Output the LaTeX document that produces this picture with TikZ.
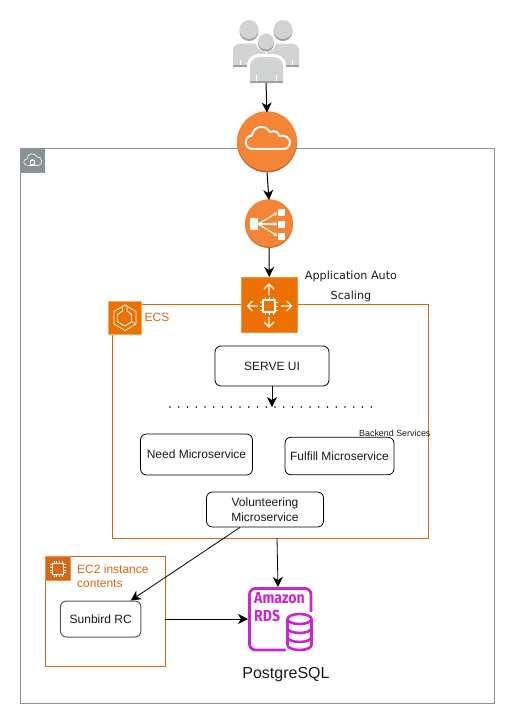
\documentclass[tikz,border=0pt]{standalone}
\usepackage{fontspec}
\setmainfont{Liberation Sans}
\newfontfamily\dejavu{DejaVu Sans}
\newfontfamily\fira[FakeStretch=0.88]{Fira Sans}
\usetikzlibrary{arrows.meta}
\definecolor{txt}{HTML}{1A1A1A}
\definecolor{awsorange}{HTML}{ED7100}
\definecolor{ecsline}{HTML}{D86613}
\definecolor{grayline}{HTML}{879196}
\definecolor{cloudor}{HTML}{F58536}
\definecolor{clouddk}{HTML}{C9642C}
\definecolor{rds}{HTML}{C925D1}
\definecolor{ppl}{HTML}{D2D3D3}
\definecolor{ppldk}{HTML}{9D9FA0}
\tikzset{
  x=1pt,y=-1pt,
  flow/.style={draw=black,line width=1pt,-{Stealth[length=10pt,width=10pt,inset=3pt]}},
  thinflow/.style={draw=black,line width=.8pt,-{Stealth[length=10pt,width=10pt,inset=3pt]}},
  svc/.style={draw=black,line width=.8pt,rounded corners=6pt,align=center,font=\fontsize{12}{15}\selectfont,text=txt,inner sep=0pt},
  slot/.style={inner sep=0pt,outer sep=0pt,minimum width=#1,minimum height=#1},
  ink/.style={draw=white,line width=.8pt,fill=none,line join=round},
}
\begin{document}
\begin{tikzpicture}
\useasboundingbox (0,0) rectangle (516,724);
\fill[white] (0,0) rectangle (516,724);

% groups
\node[draw=grayline,line width=.8pt,inner sep=0pt,outer sep=0pt,minimum width=474.5pt,minimum height=555pt,anchor=north west] (vpc) at (20.3,148) {};
\node[draw=ecsline,line width=.8pt,inner sep=0pt,outer sep=0pt,minimum width=316pt,minimum height=234pt,anchor=north west] (ecs) at (112,304) {};
\node[draw=ecsline,line width=.8pt,inner sep=0pt,outer sep=0pt,minimum width=119.5pt,minimum height=110pt,anchor=north west] (ec2) at (45.5,556) {};

% VPC icon
\node[fill=grayline,slot=24.5pt,anchor=north west] (vpcicon) at (20.5,148) {};
\draw[ink,line width=.6pt] (28,165.5) .. controls (22.5,165.5) and (22.5,159) .. (27,159) .. controls (27,153) and (35,152) .. (37,157) .. controls (42,155.5) and (44,165.5) .. (38,165.5) -- cycle;
\draw[ink,line width=.6pt] (30.3,160.5) rectangle (34.7,164);
\draw[ink,line width=.6pt] (31,160.5) arc[start angle=180,end angle=0,radius=1.5pt];

% people
\node[slot=66pt,anchor=north west,minimum height=63pt] (people) at (233,20) {};
\foreach \cx in {249,283}{
  \fill[ppl] (\cx-16,67) -- (\cx-16,50) .. controls (\cx-16,45) and (\cx-12,43.5) .. (\cx-7,43.5) -- (\cx+7,43.5) .. controls (\cx+12,43.5) and (\cx+16,45) .. (\cx+16,50) -- (\cx+16,67) -- cycle;
  \fill[ppldk] (\cx-16,65) rectangle (\cx+16,67);
  \fill[ppldk] (\cx,31.5) circle[radius=9.5pt];
  \fill[ppl] (\cx,29.5) circle[radius=9.5pt];
}
\fill[white] (247,83) -- (247,66) .. controls (247,57) and (254,54) .. (260,54) -- (272,54) .. controls (279,54) and (286,57) .. (286,66) -- (286,83) -- cycle;
\fill[white] (266,42) circle[radius=10pt];
\fill[ppl] (250,83) -- (250,66) .. controls (250,60) and (255,57) .. (260,57) -- (272,57) .. controls (278,57) and (283,60) .. (283,66) -- (283,83) -- cycle;
\fill[ppldk] (250,81) rectangle (283,83);
\fill[white] (256,75) rectangle (257,81);
\fill[white] (276,75) rectangle (277,81);
\fill[white] (239.5,60) rectangle (240.5,65);
\fill[white] (292,60) rectangle (293,65);
\fill[ppldk] (266,43.5) circle[radius=8pt];
\fill[ppl] (266,41.5) circle[radius=8pt];

% internet gateway cloud
\node[circle,fill=clouddk,slot=60pt,anchor=center] (cloud) at (267,142.5) {};
\fill[cloudor] (267,141) circle[radius=29.8pt];
\draw[ink,line width=1.9pt] (253,149) .. controls (243.5,149) and (243.5,136) .. (252,135.5) .. controls (253,127) and (264,123) .. (270,132) .. controls (274,130) and (279,132) .. (279,136) .. controls (284,134) and (292,138) .. (289.5,145) .. controls (288.5,148) and (286,149) .. (283,149) -- cycle;

% load balancer
\node[circle,fill=clouddk,slot=48pt,anchor=center] (lb) at (269,224) {};
\fill[cloudor] (269,223) circle[radius=23.8pt];
\fill[white] (249.5,218) rectangle (258,230);
\fill[white] (277.5,208.5) rectangle (284.5,215.5);
\fill[white] (277.5,220.5) rectangle (284.5,227.5);
\fill[white] (277.5,233) rectangle (284.5,240);
\draw[white,line width=1.1pt,-{Stealth[length=4pt,width=4pt]}] (258,224) -- (277.5,212.5);
\draw[white,line width=1.1pt,-{Stealth[length=4pt,width=4pt]}] (258,224) -- (277.5,224);
\draw[white,line width=1.1pt,-{Stealth[length=4pt,width=4pt]}] (258,224) -- (277.5,236);

% auto scaling (drawn over the ECS border)
\node[fill=awsorange,draw=awsorange!75!white,line width=.5pt,slot=55.5pt,anchor=north west] (asg) at (241.5,277) {};
\draw[ink,line width=1.5pt] (263,300) rectangle (275,312);
\foreach \t in {0,1,2}{
  \draw[white,line width=.9pt] (265+\t*4,297) -- (265+\t*4,300);
  \draw[white,line width=.9pt] (265+\t*4,312) -- (265+\t*4,315);
  \draw[white,line width=.9pt] (260,302+\t*4) -- (263,302+\t*4);
  \draw[white,line width=.9pt] (275,302+\t*4) -- (278,302+\t*4);
}
\draw[ink,line width=1.4pt] (269,295) -- (269,284) (264,289) -- (269,284) -- (274,289);
\draw[ink,line width=1.4pt] (269,317) -- (269,327) (264,322) -- (269,327) -- (274,322);
\draw[ink,line width=1.4pt] (258,306) -- (247.5,306) (252.5,301) -- (247.5,306) -- (252.5,311);
\draw[ink,line width=1.4pt] (281,306) -- (291.5,306) (286.5,301) -- (291.5,306) -- (286.5,311);
\node[font=\dejavu\fontsize{11.2}{20}\selectfont,text=txt,align=center,inner sep=0pt] (asgtext) at (351,286) {Application Auto\\Scaling};

% ECS icon
\node[fill=awsorange,draw=awsorange!60!white,line width=.6pt,slot=33pt,anchor=north west] (ecsicon) at (108.3,301.3) {};
\draw[ink,line width=.8pt] (125,305) -- (136,311.5) -- (136,324) -- (125,330.5) -- (114,324) -- (114,311.5) -- cycle;
\draw[ink,line width=.8pt] (122.5,305.5) -- (122.5,311) -- (117.5,314.5) -- (117.5,322) -- (125,326) -- (131.5,322) -- (131.5,314.5) -- (127,311) -- (127,305.5);
\draw[ink,line width=.8pt] (131.5,321.5) -- (136,324);
\node[font=\fontsize{12}{14}\selectfont,text=ecsline,inner sep=0pt,anchor=west] (ecstext) at (144.5,317) {ECS};

% services
\node[svc,minimum width=114pt,minimum height=40pt] (serve) at (272,366) {SERVE UI};
\coordinate (dots) at (272,407);
\draw[black,line width=1.7pt,line cap=round,dash pattern=on 0pt off 8.75pt] (170,407) -- (372,407);
\node[svc,minimum width=112pt,minimum height=41pt] (need) at (196.5,454.5) {Need Microservice};
\node[svc,minimum width=109pt,minimum height=37.5pt] (fulfill) at (339.5,456) {Fulfill Microservice};
\node[svc,minimum width=117pt,minimum height=35pt] (vol) at (265,509.5) {Volunteering\\Microservice};
\node[font=\fontsize{8.9}{10}\selectfont,text=txt,inner sep=0pt,anchor=west] (backend) at (359,433) {Backend Services};

% EC2
\node[fill=ecsline,draw=ecsline!70!white,line width=.4pt,slot=24.5pt,anchor=north west] (ec2icon) at (45.5,556) {};
\draw[ink,line width=.8pt] (52.5,563) rectangle (63.5,574);
\foreach \t in {0,1,2,3}{
  \draw[white,line width=.5pt] (53.8+\t*2.8,560.5) -- (53.8+\t*2.8,563);
  \draw[white,line width=.5pt] (53.8+\t*2.8,574) -- (53.8+\t*2.8,576.5);
  \draw[white,line width=.5pt] (50,564.3+\t*2.8) -- (52.5,564.3+\t*2.8);
  \draw[white,line width=.5pt] (63.5,564.3+\t*2.8) -- (66,564.3+\t*2.8);
}
\node[font=\fontsize{12}{14}\selectfont,text=ecsline,inner sep=0pt,align=left,anchor=north west] (ec2text) at (77,564.5) {EC2 instance\\contents};
\node[svc,draw=black!65,line width=1pt,minimum width=80.5pt,minimum height=36pt] (rc) at (100.7,619) {Sunbird RC};

% RDS
\node[slot=64pt,anchor=north west] (rdsnode) at (248,587) {};
\draw[rds,line width=2.8pt,line cap=round,rounded corners=6pt] (285,650) -- (249.5,650) -- (249.5,588.5) -- (311,588.5) -- (311,612);
\node[font=\fira\bfseries\fontsize{16}{18}\selectfont,text=rds,inner sep=0pt,align=left,anchor=north west] (rdstext) at (254,592) {Amazon\\RDS};
\fill[white] (286,612) rectangle (314,652);
\draw[rds,line width=2.6pt] (287.5,619) -- (287.5,645) arc[x radius=12pt,y radius=5pt,start angle=180,end angle=360] -- (311.5,619);
\draw[rds,line width=2.6pt] (299.5,619) ellipse[x radius=12pt,y radius=5pt];
\draw[rds,line width=2.6pt] (287.5,628) arc[x radius=12pt,y radius=5pt,start angle=180,end angle=360];
\draw[rds,line width=2.6pt] (287.5,637) arc[x radius=12pt,y radius=5pt,start angle=180,end angle=360];
\node[font=\fontsize{16}{18}\selectfont,text=txt,inner sep=0pt] (pg) at (286,675) {PostgreSQL};

% connectors
\draw[flow] (people.south) -- (cloud.north);
\draw[flow] (cloud.south) -- (lb.north);
\draw[flow] (lb.south) -- (asg.north);
\draw[flow] (serve.south) -- (dots);
\draw[thinflow] ([xshift=-25pt]vol.south) -- ([xshift=30pt]rc.north);
\draw[thinflow] ([xshift=165pt]ecs.south west) -- ([xshift=30pt]rdsnode.north west);
\draw[thinflow] (ec2.east |- rc.east) -- (rdsnode.west |- rc.east);
\end{tikzpicture}
\end{document}
